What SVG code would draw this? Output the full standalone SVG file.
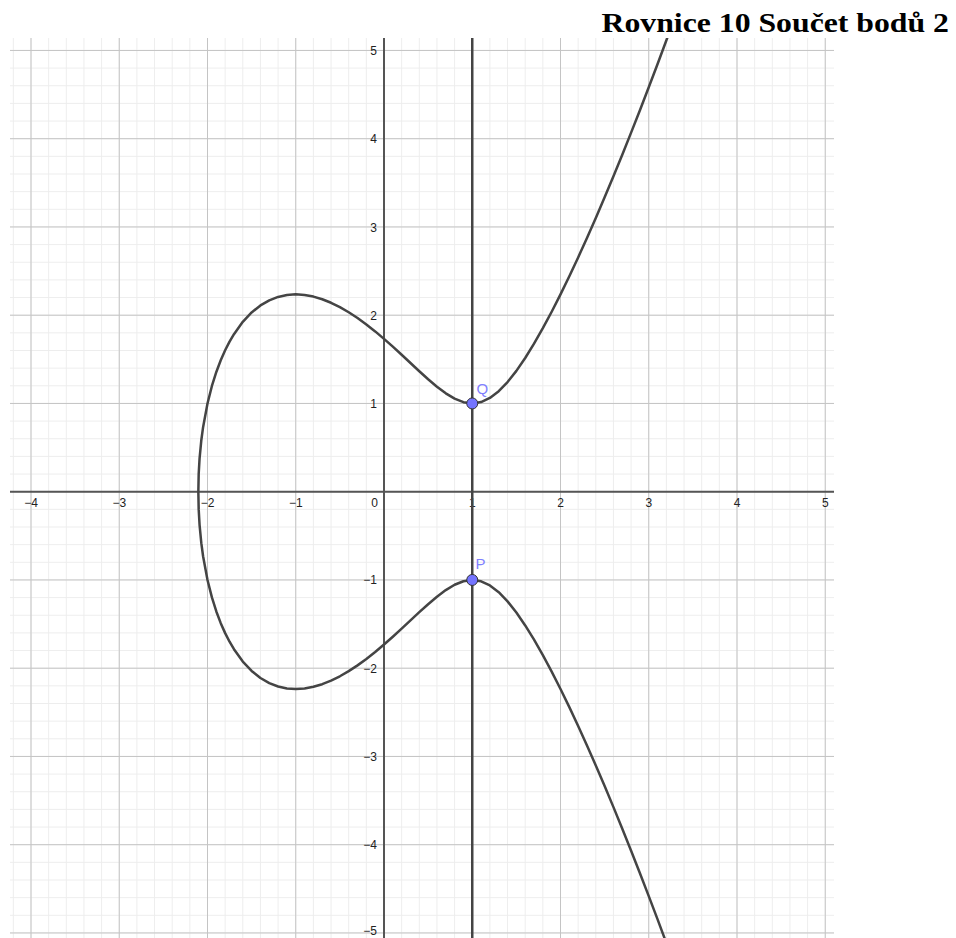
<svg xmlns="http://www.w3.org/2000/svg" width="956" height="938" viewBox="0 0 956 938">
<style>
.tick{font-family:"Liberation Sans",Arial,sans-serif;font-size:12px;fill:#222}
.tx{text-anchor:middle}
.ty{text-anchor:end}
.axis{stroke:#555;stroke-width:2;fill:none}
.curve{stroke:#444;stroke-width:2.5;fill:none;stroke-linejoin:round;stroke-linecap:round}
.pt{fill:#7474ff;stroke:#333;stroke-width:1}
.plabel{font-family:"Liberation Sans",Arial,sans-serif;font-size:15px;fill:#8080ff}
</style>
<defs>
<pattern id="minor" patternUnits="userSpaceOnUse" x="383.5" y="491.2" width="17.65" height="17.65">
<path d="M0.5 0V17.65M0 0.5H17.65" stroke="#ededed" stroke-width="1" fill="none"/>
</pattern>
<pattern id="major" patternUnits="userSpaceOnUse" x="383.5" y="491.2" width="88.25" height="88.25">
<path d="M0.5 0V88.25M0 0.5H88.25" stroke="#c4c4c4" stroke-width="1" fill="none"/>
</pattern>
<clipPath id="plot"><rect x="10" y="38" width="824" height="900"/></clipPath>
</defs>
<rect width="956" height="938" fill="#fff"/>
<g id="grid">
<rect x="10" y="38" width="824" height="900" fill="url(#minor)"/>
<rect x="10" y="38" width="824" height="900" fill="url(#major)"/>
</g>
<g id="axes">
<line class="axis" x1="10" y1="491.7" x2="834" y2="491.7"/>
<line class="axis" x1="384" y1="38" x2="384" y2="938"/>
</g>
<g id="tick-labels" class="tick">
<text class="tx" x="31" y="507">−4</text>
<text class="tx" x="119.25" y="507">−3</text>
<text class="tx" x="207.5" y="507">−2</text>
<text class="tx" x="295.75" y="507">−1</text>
<text class="ty" x="378" y="507">0</text>
<text class="tx" x="472.25" y="507">1</text>
<text class="tx" x="560.5" y="507">2</text>
<text class="tx" x="648.75" y="507">3</text>
<text class="tx" x="737" y="507">4</text>
<text class="tx" x="825.25" y="507">5</text>
<text class="ty" x="377" y="55">5</text>
<text class="ty" x="377" y="143.2">4</text>
<text class="ty" x="377" y="231.5">3</text>
<text class="ty" x="377" y="319.7">2</text>
<text class="ty" x="377" y="408">1</text>
<text class="ty" x="377" y="584.4">−1</text>
<text class="ty" x="377" y="672.7">−2</text>
<text class="ty" x="377" y="760.9">−3</text>
<text class="ty" x="377" y="849.2">−4</text>
<text class="ty" x="377" y="934.5">−5</text>
</g>
<g id="connectors" clip-path="url(#plot)">
<path id="curve" class="curve" d="M670.81,28.26 L666.4,40.26 L657.58,63.97 L648.75,87.29 L639.93,110.19 L631.1,132.66 L622.28,154.69 L613.45,176.26 L604.63,197.35 L595.8,217.92 L586.98,237.96 L578.15,257.41 L569.33,276.24 L560.5,294.36 L551.68,311.72 L542.85,328.21 L534.03,343.69 L525.2,357.97 L516.38,370.86 L507.55,382.04 L498.73,391.19 L489.9,397.97 L481.08,402.09 L472.25,403.45 L463.43,402.18 L454.6,398.64 L445.78,393.31 L436.95,386.68 L428.13,379.2 L419.3,371.21 L410.48,363.0 L401.65,354.75 L392.83,346.66 L384,338.84 L375.18,331.41 L366.35,324.44 L357.53,318.02 L348.7,312.23 L339.88,307.11 L331.05,302.76 L322.23,299.22 L313.4,296.59 L304.58,294.94 L295.75,294.36 L286.93,294.98 L278.1,296.91 L269.28,300.31 L260.45,305.41 L251.63,312.46 L242.8,321.85 L233.98,334.16 L229.56,341.66 L225.15,350.28 L220.74,360.26 L216.33,371.96 L211.91,385.98 L207.5,403.45 L203.09,427.15 L201.32,440.22 L199.56,458.6 L198.68,474.27 L198.34,491.7 L198.68,509.13 L199.56,524.8 L201.32,543.18 L203.09,556.25 L207.5,579.95 L211.91,597.42 L216.33,611.44 L220.74,623.14 L225.15,633.12 L229.56,641.74 L233.98,649.24 L242.8,661.55 L251.63,670.94 L260.45,677.99 L269.28,683.09 L278.1,686.49 L286.93,688.42 L295.75,689.04 L304.58,688.46 L313.4,686.81 L322.23,684.18 L331.05,680.64 L339.88,676.29 L348.7,671.17 L357.53,665.38 L366.35,658.96 L375.18,651.99 L384,644.56 L392.83,636.74 L401.65,628.65 L410.48,620.4 L419.3,612.19 L428.13,604.2 L436.95,596.72 L445.78,590.09 L454.6,584.76 L463.43,581.22 L472.25,579.95 L481.08,581.31 L489.9,585.43 L498.73,592.21 L507.55,601.36 L516.38,612.54 L525.2,625.43 L534.03,639.71 L542.85,655.19 L551.68,671.68 L560.5,689.04 L569.33,707.16 L578.15,725.99 L586.98,745.44 L595.8,765.48 L604.63,786.05 L613.45,807.14 L622.28,828.71 L631.1,850.74 L639.93,873.21 L648.75,896.11 L657.58,919.43 L666.4,943.14 L670.81,955.14"/>
<line id="line-PQ" x1="472.25" y1="38" x2="472.25" y2="938" stroke="#444" stroke-width="2.5"/>
</g>
<g id="node-Q">
<circle class="pt" cx="472.25" cy="403.45" r="5.5"/>
<text class="plabel" x="476.5" y="394">Q</text>
</g>
<g id="node-P">
<circle class="pt" cx="472.25" cy="579.95" r="5.5"/>
<text class="plabel" x="475.5" y="568.5">P</text>
</g>
<g id="title">
<text x="601.5" y="31.7" textLength="347.5" lengthAdjust="spacingAndGlyphs" style="font-family:'Liberation Serif','DejaVu Serif',serif;font-weight:bold;font-size:27px;fill:#000">Rovnice 10 Součet bodů 2</text>
</g>
</svg>
